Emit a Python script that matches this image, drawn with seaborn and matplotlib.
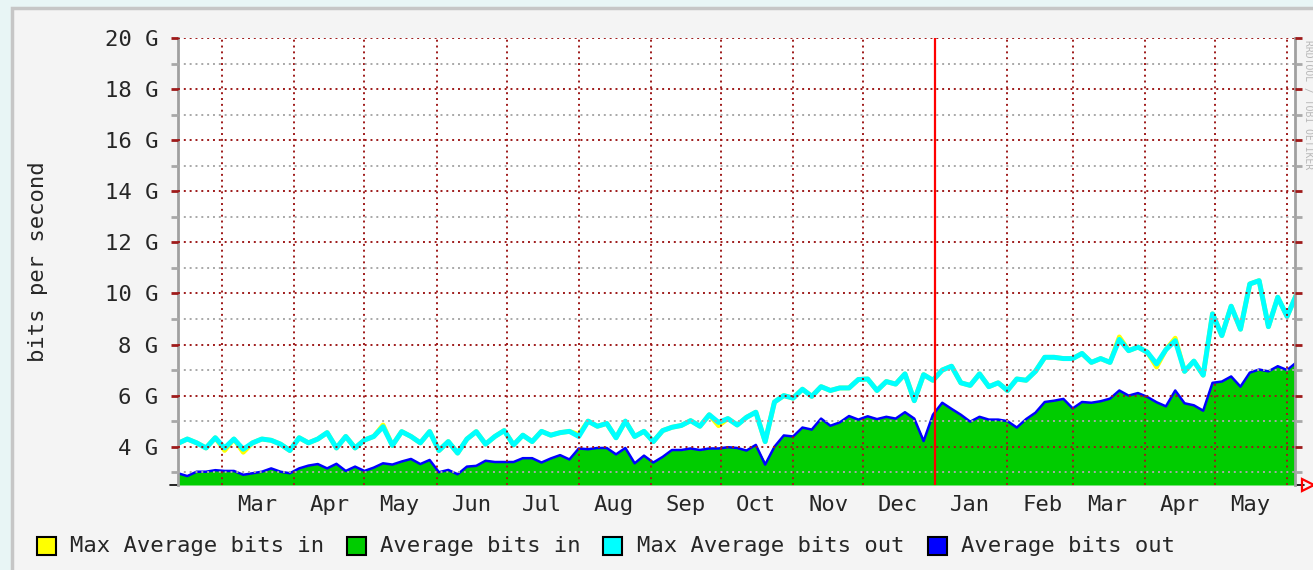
import numpy as np
import pandas as pd
import matplotlib
matplotlib.use("Agg")
import matplotlib.pyplot as plt
import matplotlib.dates as mdates
from matplotlib.patches import Rectangle
from matplotlib.ticker import FixedLocator, FuncFormatter
import seaborn as sns

# ---------------- data ----------------
start_date = "2010-02-10"
step_days = 4
year_marker = "2011-01-01"

avg_in = [
    2.96, 2.85, 3.02, 3.02, 3.08, 3.05, 3.05, 2.90, 2.96, 3.02,
    3.15, 3.02, 2.96, 3.15, 3.26, 3.32, 3.15, 3.33, 3.05, 3.22,
    3.05, 3.18, 3.35, 3.30, 3.42, 3.52, 3.32, 3.48, 3.00, 3.09,
    2.92, 3.22, 3.25, 3.45, 3.40, 3.40, 3.40, 3.55, 3.55, 3.38,
    3.54, 3.67, 3.50, 3.93, 3.90, 3.95, 3.95, 3.70, 3.95, 3.35,
    3.65, 3.38, 3.60, 3.87, 3.87, 3.93, 3.87, 3.93, 3.93, 3.98,
    3.95, 3.85, 4.07, 3.40, 4.00, 4.44, 4.40, 4.75, 4.67, 5.10,
    4.82, 4.95, 5.20, 5.06, 5.19, 5.08, 5.17, 5.10, 5.35, 5.10,
    4.30, 5.30, 5.72, 5.48, 5.25, 4.98, 5.17, 5.06, 5.06,
    5.00, 4.75, 5.08, 5.33, 5.75, 5.80, 5.87, 5.50, 5.75, 5.72,
    5.78, 5.88, 6.20, 6.00, 6.10, 5.95, 5.74, 5.58, 6.20, 5.70,
    5.62, 5.41, 6.50, 6.55, 6.75, 6.35, 6.90, 7.02, 6.95, 7.15,
    7.00, 7.30,
]
avg_out = [
    2.96, 2.85, 3.02, 3.02, 3.08, 3.05, 3.05, 2.90, 2.96, 3.02,
    3.15, 3.02, 2.96, 3.15, 3.26, 3.32, 3.15, 3.33, 3.05, 3.22,
    3.05, 3.18, 3.35, 3.30, 3.42, 3.52, 3.32, 3.48, 3.00, 3.09,
    2.92, 3.22, 3.25, 3.45, 3.40, 3.40, 3.40, 3.55, 3.55, 3.38,
    3.54, 3.67, 3.50, 3.93, 3.90, 3.95, 3.95, 3.70, 3.95, 3.35,
    3.65, 3.38, 3.60, 3.87, 3.87, 3.93, 3.87, 3.93, 3.93, 3.98,
    3.95, 3.85, 4.07, 3.30, 4.00, 4.44, 4.40, 4.75, 4.67, 5.10,
    4.82, 4.95, 5.20, 5.06, 5.19, 5.08, 5.17, 5.10, 5.35, 5.10,
    4.22, 5.25, 5.72, 5.48, 5.25, 4.98, 5.17, 5.06, 5.06,
    5.00, 4.75, 5.08, 5.33, 5.75, 5.80, 5.87, 5.50, 5.75, 5.72,
    5.78, 5.88, 6.20, 6.00, 6.10, 5.95, 5.74, 5.58, 6.20, 5.70,
    5.62, 5.41, 6.50, 6.55, 6.75, 6.35, 6.90, 7.02, 6.95, 7.15,
    7.00, 7.30,
]
max_out = [
    4.13, 4.30, 4.15, 3.95, 4.35, 3.95, 4.30, 3.90, 4.15, 4.30,
    4.25, 4.10, 3.85, 4.35, 4.15, 4.30, 4.55, 3.95, 4.40, 3.95,
    4.26, 4.40, 4.78, 4.05, 4.59, 4.40, 4.15, 4.59, 3.85, 4.20,
    3.75, 4.30, 4.59, 4.10, 4.40, 4.63, 4.07, 4.45, 4.20, 4.60,
    4.45, 4.55, 4.60, 4.40, 5.00, 4.80, 4.91, 4.35, 5.00, 4.40,
    4.60, 4.20, 4.63, 4.76, 4.83, 5.02, 4.80, 5.25, 4.95, 5.10,
    4.85, 5.15, 5.35, 4.20, 5.75, 6.00, 5.90, 6.25, 5.97, 6.35,
    6.20, 6.30, 6.30, 6.63, 6.65, 6.20, 6.55, 6.45, 6.85, 5.80,
    6.82, 6.60, 7.00, 7.15, 6.50, 6.40, 6.85, 6.35, 6.50,
    6.20, 6.65, 6.60, 6.95, 7.50, 7.50, 7.45, 7.45, 7.65, 7.30,
    7.45, 7.30, 8.20, 7.76, 7.90, 7.70, 7.24, 7.80, 8.15, 6.95,
    7.35, 6.80, 9.20, 8.35, 9.50, 8.60, 10.37, 10.50, 8.70, 9.85,
    9.10, 9.95,
]
max_in = [
    4.13, 4.30, 4.15, 3.95, 4.35, 3.85, 4.30, 3.78, 4.15, 4.30,
    4.25, 4.10, 3.85, 4.35, 4.15, 4.30, 4.55, 3.95, 4.40, 3.95,
    4.26, 4.40, 4.85, 4.05, 4.59, 4.40, 4.15, 4.59, 3.85, 4.20,
    3.75, 4.30, 4.59, 4.10, 4.40, 4.63, 4.07, 4.45, 4.20, 4.60,
    4.45, 4.55, 4.60, 4.48, 5.00, 4.80, 4.91, 4.35, 5.00, 4.40,
    4.60, 4.20, 4.63, 4.76, 4.83, 5.02, 4.80, 5.25, 4.82, 5.10,
    4.85, 5.15, 5.35, 4.20, 5.75, 6.00, 5.90, 6.25, 5.97, 6.35,
    6.20, 6.30, 6.30, 6.63, 6.65, 6.20, 6.55, 6.45, 6.85, 5.80,
    6.82, 6.60, 7.00, 7.15, 6.50, 6.40, 6.85, 6.35, 6.50,
    6.20, 6.65, 6.60, 6.95, 7.50, 7.50, 7.45, 7.45, 7.65, 7.30,
    7.45, 7.30, 8.30, 7.76, 7.90, 7.70, 7.12, 7.80, 8.25, 6.95,
    7.35, 6.80, 9.20, 8.35, 9.50, 8.60, 10.37, 10.50, 8.70, 9.85,
    9.10, 9.95,
]

y_major_ticks = [4, 6, 8, 10, 12, 14, 16, 18, 20]
y_minor_ticks = [3, 5, 7, 9, 11, 13, 15, 17, 19]
y_range = (2.5, 20)
x_span_days = 479.4
legend_labels = ["Max Average bits in", "Average bits in",
                 "Max Average bits out", "Average bits out"]
y_label = "bits per second"
watermark = "RRDTOOL / TOBI OETIKER"

# ---------------- styling ----------------
C_MAXIN = "#ffff00"
C_AVGIN = "#00cc00"
C_MAXOUT = "#00ffff"
C_AVGOUT = "#0000ff"
C_GRID_MAJ = "#9e1a1a"
C_GRID_MIN = "#a8a8a8"

sns.set_style("white")
plt.rcParams["font.family"] = ["DejaVu Sans Mono", "DejaVu Sans"]

W, H = 1313, 570
fig = plt.figure(figsize=(W / 100, H / 100), dpi=100, facecolor="#e8f5f5")
panel = Rectangle((12 / W, -0.01), 1.0, 1 - 8 / H + 0.01, transform=fig.transFigure,
                  facecolor="#f4f4f4", edgecolor="#c6c6c6", lw=2.5, zorder=-5)
fig.patches.append(panel)

ax = fig.add_axes([178 / W, 1 - 485 / H, (1295 - 178) / W, (485 - 38) / H])
ax.set_zorder(2)
ax.set_facecolor("white")

dates = pd.date_range(start_date, periods=len(avg_in), freq=f"{step_days}D")
df = pd.DataFrame({"date": dates, "avg_in": avg_in, "avg_out": avg_out,
                   "max_in": max_in, "max_out": max_out})

ax.fill_between(df["date"], y_range[0], df["avg_in"], color=C_AVGIN, lw=0, zorder=1)
sns.lineplot(data=df, x="date", y="avg_out", ax=ax, color=C_AVGOUT, lw=1.8,
             estimator=None, zorder=1.5)
sns.lineplot(data=df, x="date", y="max_in", ax=ax, color=C_MAXIN, lw=3.4,
             estimator=None, zorder=1.6)
sns.lineplot(data=df, x="date", y="max_out", ax=ax, color=C_MAXOUT, lw=3.6,
             estimator=None, zorder=1.7)

x0 = pd.Timestamp(start_date)
ax.set_xlim(x0, x0 + pd.Timedelta(days=x_span_days))
ax.set_ylim(*y_range)

# x axis: month starts (grid) and mid-month labels
month_starts = pd.date_range("2010-03-01", "2011-06-01", freq="MS")
month_mids = pd.date_range("2010-03-01", "2011-05-01", freq="MS") + pd.Timedelta(days=15)
ax.xaxis.set_major_locator(FixedLocator(mdates.date2num(month_starts)))
ax.xaxis.set_minor_locator(FixedLocator(mdates.date2num(month_mids)))
ax.xaxis.set_major_formatter(FuncFormatter(lambda v, p: ""))
ax.xaxis.set_minor_formatter(mdates.DateFormatter("%b"))
ax.tick_params(axis="x", which="major", length=6, width=1.5, color=C_GRID_MAJ,
               direction="out")
ax.tick_params(axis="x", which="minor", length=0, labelsize=16, pad=7)

# y axis
ax.yaxis.set_major_locator(FixedLocator(y_major_ticks))
ax.yaxis.set_minor_locator(FixedLocator(y_minor_ticks))
ax.yaxis.set_major_formatter(FuncFormatter(lambda v, p: f"{v:g} G"))
ax.tick_params(axis="y", which="major", length=5, width=2, color=C_GRID_MAJ,
               direction="out", labelsize=16, pad=9, right=True, left=True)
ax.tick_params(axis="y", which="minor", length=5, width=2, color=C_GRID_MIN,
               direction="out", right=True, left=True)

ax.set_axisbelow(False)
ax.grid(True, which="major", axis="both", color=C_GRID_MAJ, linestyle=(0, (1, 2)), lw=1.4)
ax.grid(True, which="minor", axis="y", color=C_GRID_MIN, linestyle=(0, (1, 2)), lw=1.4)
ax.grid(False, which="minor", axis="x")

ax.axvline(pd.Timestamp(year_marker), color="#ff0000", lw=1.6, zorder=3)

for side in ["top", "bottom"]:
    ax.spines[side].set_visible(False)
for side in ["left", "right"]:
    ax.spines[side].set_color("#a0a0a0")
    ax.spines[side].set_linewidth(2)

ax.set_xlabel("")
ax.set_ylabel("")

# axis end decorations (rrdtool style arrow)
ax.plot([1.0, 1.008], [0, 0], transform=ax.transAxes, color="black", lw=1.2, clip_on=False)
ax.plot([-0.007, 0.0], [0, 0], transform=ax.transAxes, color="black", lw=1.2, clip_on=False)
ax.plot([1.012], [0], transform=ax.transAxes, marker=">", ms=9, mfc="none",
        mec="#ff0000", mew=1.6, clip_on=False)

fig.text(38 / W, 1 - 262 / H, y_label, rotation=90, ha="center", va="center", fontsize=16)
fig.text(1308 / W, 1 - 40 / H, watermark, rotation=270, ha="center", va="top",
         fontsize=7, color="#b8b8b8")

# legend
legend_colors = [C_MAXIN, C_AVGIN, C_MAXOUT, C_AVGOUT]
box_x = [37, 347, 603, 928]
text_x = [70, 380, 637, 961]
ly = 546
for lab, col, bx, tx in zip(legend_labels, legend_colors, box_x, text_x):
    fig.patches.append(Rectangle((bx / W, 1 - 555 / H), 19 / W, 18 / H,
                                 transform=fig.transFigure, facecolor=col,
                                 edgecolor="black", lw=1.5, zorder=2))
    fig.text(tx / W, 1 - ly / H, lab, ha="left", va="center", fontsize=16)

fig.savefig("out.png", dpi=100, facecolor=fig.get_facecolor())
